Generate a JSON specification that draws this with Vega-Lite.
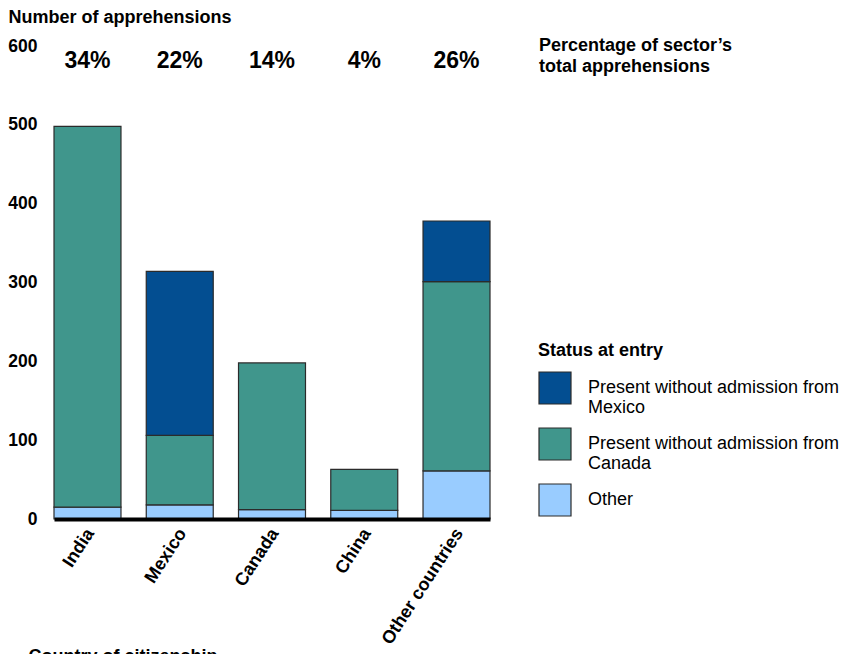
{
  "$schema": "https://vega.github.io/schema/vega-lite/v6.json",
  "width": 436,
  "height": 473,
  "autosize": "none",
  "padding": {"left": 54, "top": 46, "right": 354, "bottom": 135},
  "background": "white",
  "config": {"view": {"stroke": null}, "font": "Liberation Sans"},
  "title": {
    "text": ["Percentage of sector’s", "total apprehensions"],
    "anchor": "start",
    "frame": "group",
    "orient": "top",
    "dx": 485,
    "dy": 68,
    "fontSize": 18,
    "fontWeight": "bold",
    "color": "black",
    "lineHeight": 21,
    "baseline": "top",
    "offset": 0
  },
  "datasets": {
    "bars": [
      {"country": "India", "status": "Other", "count": 15},
      {"country": "India", "status": "Present without admission from Canada", "count": 483},
      {"country": "Mexico", "status": "Other", "count": 18},
      {"country": "Mexico", "status": "Present without admission from Canada", "count": 88},
      {"country": "Mexico", "status": "Present without admission from Mexico", "count": 208},
      {"country": "Canada", "status": "Other", "count": 12},
      {"country": "Canada", "status": "Present without admission from Canada", "count": 186},
      {"country": "China", "status": "Other", "count": 11},
      {"country": "China", "status": "Present without admission from Canada", "count": 52},
      {"country": "Other countries", "status": "Other", "count": 61},
      {"country": "Other countries", "status": "Present without admission from Canada", "count": 240},
      {"country": "Other countries", "status": "Present without admission from Mexico", "count": 77}
    ],
    "pct": [
      {"country": "India", "share": "34%"},
      {"country": "Mexico", "share": "22%"},
      {"country": "Canada", "share": "14%"},
      {"country": "China", "share": "4%"},
      {"country": "Other countries", "share": "26%"}
    ]
  },
  "layer": [
    {
      "data": {"name": "bars"},
      "mark": {"type": "bar", "stroke": "#2b2b2b", "strokeWidth": 1.2},
      "encoding": {
        "x": {
          "field": "country",
          "type": "nominal",
          "sort": ["India", "Mexico", "Canada", "China", "Other countries"],
          "scale": {"paddingInner": 0.274, "paddingOuter": 0},
          "axis": {
            "zindex": 1,
            "title": "Country of citizenship",
            "titleAlign": "left",
            "titleAnchor": "start",
            "titleX": -26,
            "titleY": 142,
            "titleBaseline": "alphabetic",
            "titleFontSize": 18,
            "titleFontWeight": "bold",
            "titleColor": "black",
            "labelAngle": -57,
            "labelAlign": "right",
            "labelBaseline": "middle",
            "labelFontSize": 18,
            "labelFontWeight": "bold",
            "labelColor": "black",
            "labelPadding": 11,
            "labelOffset": 3,
            "ticks": false,
            "domainWidth": 4,
            "domainColor": "black"
          }
        },
        "y": {
          "field": "count",
          "type": "quantitative",
          "stack": "zero",
          "scale": {"domain": [0, 600], "nice": false},
          "axis": {
            "values": [0, 100, 200, 300, 400, 500, 600],
            "title": "Number of apprehensions",
            "titleAngle": 0,
            "titleAlign": "left",
            "titleAnchor": "start",
            "titleBaseline": "alphabetic",
            "titleX": -46,
            "titleY": -24,
            "titleFontSize": 18,
            "titleFontWeight": "bold",
            "titleColor": "black",
            "labelFontSize": 17.5,
            "labelFontWeight": "bold",
            "labelColor": "black",
            "labelPadding": 17,
            "ticks": false,
            "domain": false,
            "grid": false
          }
        },
        "color": {
          "field": "status",
          "type": "nominal",
          "scale": {
            "domain": ["Present without admission from Mexico", "Present without admission from Canada", "Other"],
            "range": ["#034e91", "#40968c", "#99ccff"]
          },
          "legend": {
            "orient": "none",
            "legendX": 484,
            "legendY": 296,
            "title": "Status at entry",
            "titleFontSize": 18,
            "titleFontWeight": "bold",
            "titleColor": "black",
            "titlePadding": 11,
            "labelFontSize": 18,
            "labelColor": "black",
            "symbolType": "square",
            "symbolSize": 1024,
            "symbolStrokeColor": "#2b2b2b",
            "symbolStrokeWidth": 1.2,
            "symbolOpacity": 1,
            "labelOffset": 16,
            "rowPadding": 8,
            "labelLimit": 400,
            "labelExpr": "datum.label == 'Other' ? 'Other' : ['Present without admission from', replace(datum.label, 'Present without admission from ', '')]"
          }
        },
        "order": {"field": "status", "sort": "ascending"}
      }
    },
    {
      "data": {"name": "pct"},
      "mark": {"type": "text", "fontSize": 23, "fontWeight": "bold", "baseline": "middle", "color": "black"},
      "encoding": {
        "x": {"field": "country", "type": "nominal", "sort": ["India", "Mexico", "Canada", "China", "Other countries"]},
        "y": {"datum": 581},
        "text": {"field": "share"}
      }
    }
  ]
}
